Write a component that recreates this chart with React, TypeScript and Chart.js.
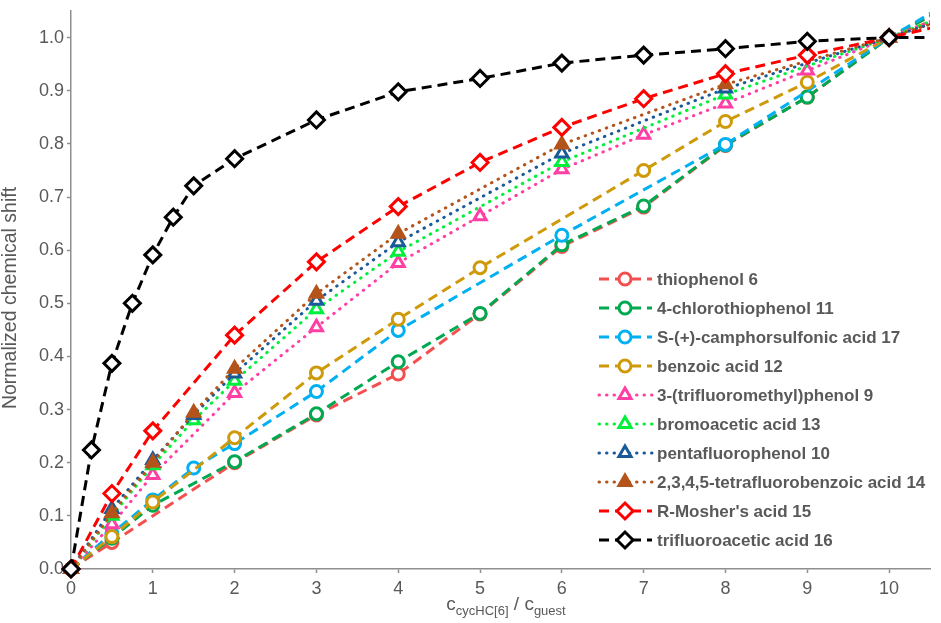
import { useEffect, useRef } from 'react';
import { Chart, registerables } from 'chart.js';
import { drawPoint } from 'chart.js/helpers';

Chart.register(...registerables);

// ============= DATA =============
const seriesNames = [
    'thiophenol 6',
    '4-chlorothiophenol 11',
    'S-(+)-camphorsulfonic acid 17',
    'benzoic acid 12',
    '3-(trifluoromethyl)phenol 9',
    'bromoacetic acid 13',
    'pentafluorophenol 10',
    '2,3,4,5-tetrafluorobenzoic acid 14',
    "R-Mosher's acid 15",
    'trifluoroacetic acid 16',
];

// x = c(cycHC[6]) / c(guest); the last point of each series lies past the axis end
const thiophenolX = [0, 0.5, 2, 3, 4, 5, 6, 7, 8, 9, 10, 11];
const thiophenolY = [0, 0.05, 0.2, 0.29, 0.367, 0.48, 0.607, 0.681, 0.797, 0.888, 1.0, 1.08];

const chlorothiophenolX = [0, 0.5, 1, 2, 3, 4, 5, 6, 7, 8, 9, 10, 11];
const chlorothiophenolY = [0, 0.058, 0.12, 0.202, 0.292, 0.39, 0.481, 0.61, 0.683, 0.798, 0.888, 1.0, 1.08];

const camphorX = [0, 0.5, 1, 1.5, 2, 3, 4, 6, 8, 10, 11];
const camphorY = [0, 0.067, 0.13, 0.19, 0.236, 0.334, 0.449, 0.628, 0.799, 1.0, 1.09];

const benzoicX = [0, 0.5, 1, 2, 3, 4, 5, 7, 8, 9, 10, 11];
const benzoicY = [0, 0.061, 0.126, 0.247, 0.369, 0.47, 0.567, 0.75, 0.842, 0.916, 1.0, 1.06];

const tfmPhenolX = [0, 0.5, 1, 2, 3, 4, 5, 6, 7, 8, 9, 10, 11];
const tfmPhenolY = [0, 0.084, 0.177, 0.331, 0.455, 0.576, 0.664, 0.752, 0.817, 0.876, 0.938, 1.0, 1.06];

const bromoaceticX = [0, 0.5, 1, 1.5, 2, 3, 4, 6, 8, 10, 11];
const bromoaceticY = [0, 0.1, 0.195, 0.28, 0.354, 0.489, 0.597, 0.766, 0.893, 1.0, 1.06];

const pentafluoroX = [0, 0.5, 1, 1.5, 2, 3, 4, 6, 8, 10, 11];
const pentafluoroY = [0, 0.113, 0.205, 0.29, 0.368, 0.505, 0.615, 0.782, 0.904, 1.0, 1.05];

const tetrafluoroX = [0, 0.5, 1, 1.5, 2, 3, 4, 6, 8, 10, 11];
const tetrafluoroY = [0, 0.105, 0.2, 0.294, 0.377, 0.518, 0.631, 0.799, 0.912, 1.0, 1.05];

const mosherX = [0, 0.5, 1, 2, 3, 4, 5, 6, 7, 8, 9, 10, 11];
const mosherY = [0, 0.142, 0.26, 0.44, 0.578, 0.682, 0.765, 0.831, 0.885, 0.932, 0.967, 1.0, 1.035];

const tfaX = [0, 0.25, 0.5, 0.75, 1, 1.25, 1.5, 2, 3, 4, 5, 6, 7, 8, 9, 10, 11];
const tfaY = [0, 0.224, 0.387, 0.5, 0.591, 0.662, 0.721, 0.772, 0.845, 0.898, 0.923, 0.952, 0.967, 0.979, 0.993, 1.0, 1.0];

const seriesX = [thiophenolX, chlorothiophenolX, camphorX, benzoicX, tfmPhenolX, bromoaceticX, pentafluoroX, tetrafluoroX, mosherX, tfaX];
const seriesY = [thiophenolY, chlorothiophenolY, camphorY, benzoicY, tfmPhenolY, bromoaceticY, pentafluoroY, tetrafluoroY, mosherY, tfaY];

// ============= STYLES =============
const DASH = [10, 6];
const DOT = [0.5, 7];
const FONT = '"Liberation Sans", Arial, sans-serif';
const TEXT_GREY = '#595959';
const AXIS_GREY = '#8f8f8f';

interface SeriesStyle {
    color: string;
    dash: number[];
    point: 'circle' | 'triangle' | 'rectRot';
    radius: number;
    fill: string;
}

const styles: SeriesStyle[] = [
    { color: '#f44f4f', dash: DASH, point: 'circle', radius: 6, fill: '#ffffff' },
    { color: '#00a950', dash: DASH, point: 'circle', radius: 6, fill: '#ffffff' },
    { color: '#00b0f0', dash: DASH, point: 'circle', radius: 6, fill: '#ffffff' },
    { color: '#cf9a0a', dash: DASH, point: 'circle', radius: 6, fill: '#ffffff' },
    { color: '#ff3fa4', dash: DOT, point: 'triangle', radius: 7, fill: '#ffffff' },
    { color: '#00f03c', dash: DOT, point: 'triangle', radius: 7, fill: '#ffffff' },
    { color: '#1b5a98', dash: DOT, point: 'triangle', radius: 7, fill: '#ffffff' },
    { color: '#b4531a', dash: DOT, point: 'triangle', radius: 7, fill: '#b4531a' },
    { color: '#ff0000', dash: DASH, point: 'rectRot', radius: 8, fill: '#ffffff' },
    { color: '#000000', dash: DASH, point: 'rectRot', radius: 8, fill: '#ffffff' },
];

// ============= PLUGIN: legend inside plot + axis titles =============
const annotations = {
    id: 'annotations',
    afterDraw(chart: Chart) {
        const ctx = chart.ctx;
        ctx.save();

        // legend
        const lineStart = 599;
        const lineEnd = 652;
        const markX = 625;
        const textX = 657;
        const firstY = 279;
        const step = 29;
        seriesNames.forEach((name, i) => {
            const s = styles[i];
            const y = firstY + i * step;
            ctx.save();
            ctx.strokeStyle = s.color;
            ctx.lineWidth = 3;
            ctx.lineCap = s.dash === DOT ? 'round' : 'butt';
            ctx.setLineDash(s.dash);
            ctx.beginPath();
            ctx.moveTo(lineStart, y);
            ctx.lineTo(lineEnd, y);
            ctx.stroke();
            ctx.setLineDash([]);
            ctx.fillStyle = s.fill;
            ctx.lineWidth = 3;
            drawPoint(ctx, { pointStyle: s.point, radius: s.radius, rotation: 0, borderWidth: 3 }, markX, y);
            ctx.restore();

            ctx.fillStyle = TEXT_GREY;
            ctx.font = `bold 17px ${FONT}`;
            ctx.textAlign = 'left';
            ctx.textBaseline = 'middle';
            ctx.fillText(name, textX, y + 1);
        });

        // y title
        ctx.save();
        ctx.translate(11, 298);
        ctx.rotate(-Math.PI / 2);
        ctx.fillStyle = TEXT_GREY;
        ctx.font = `19.5px ${FONT}`;
        ctx.textAlign = 'center';
        ctx.textBaseline = 'middle';
        ctx.fillText('Normalized chemical shift', 0, 0);
        ctx.restore();

        // x title with subscripts
        const parts = [
            { t: 'c', sub: false },
            { t: 'cycHC[6]', sub: true },
            { t: ' / c', sub: false },
            { t: 'guest', sub: true },
        ];
        const mainFont = `19px ${FONT}`;
        const subFont = `13px ${FONT}`;
        let total = 0;
        parts.forEach(p => {
            ctx.font = p.sub ? subFont : mainFont;
            total += ctx.measureText(p.t).width;
        });
        let x = 506 - total / 2;
        const base = 610;
        ctx.fillStyle = TEXT_GREY;
        ctx.textAlign = 'left';
        ctx.textBaseline = 'alphabetic';
        parts.forEach(p => {
            ctx.font = p.sub ? subFont : mainFont;
            ctx.fillText(p.t, x, p.sub ? base + 5 : base);
            x += ctx.measureText(p.t).width;
        });

        ctx.restore();
    },
};

// ============= CHART =============
const ShiftChart = () => {
    const chartRef = useRef<HTMLCanvasElement>(null);
    const chartInstance = useRef<Chart | null>(null);

    useEffect(() => {
        document.body.style.margin = '0';
        if (!chartRef.current) return;
        if (chartInstance.current) chartInstance.current.destroy();

        const ctx = chartRef.current.getContext('2d');
        if (!ctx) return;

        const n = seriesNames.length;
        chartInstance.current = new Chart(ctx, {
            type: 'line',
            data: {
                datasets: seriesNames.map((name, i) => ({
                    label: name,
                    data: seriesX[i].map((x, j) => ({ x, y: seriesY[i][j] })),
                    borderColor: styles[i].color,
                    borderWidth: 3,
                    borderDash: styles[i].dash,
                    borderCapStyle: styles[i].dash === DOT ? 'round' : 'butt',
                    backgroundColor: styles[i].fill,
                    pointStyle: styles[i].point,
                    pointRadius: styles[i].radius,
                    pointBorderWidth: 3,
                    pointBorderColor: styles[i].color,
                    pointBackgroundColor: styles[i].fill,
                    tension: 0,
                    fill: false,
                    order: n - i,
                    clip: { left: 15, top: 15, bottom: 15, right: 0 },
                })),
            },
            options: {
                responsive: false,
                animation: false,
                layout: { padding: { top: 3, right: 6, left: 0, bottom: 0 } },
                plugins: {
                    legend: { display: false },
                    tooltip: { enabled: false },
                },
                scales: {
                    x: {
                        type: 'linear',
                        min: 0,
                        max: 10.5,
                        afterFit: (scale) => {
                            scale.height = 54;
                            scale.paddingLeft = 0;
                            scale.paddingRight = 0;
                        },
                        ticks: {
                            stepSize: 1,
                            includeBounds: false,
                            color: TEXT_GREY,
                            font: { family: FONT, size: 18 },
                            padding: 5,
                            maxRotation: 0,
                        },
                        grid: { drawOnChartArea: false, tickLength: 4, tickColor: AXIS_GREY, tickWidth: 1.5 },
                        border: { color: AXIS_GREY, width: 1.5 },
                    },
                    y: {
                        type: 'linear',
                        min: 0,
                        max: 1.05,
                        afterFit: (scale) => {
                            scale.width = 71;
                            scale.paddingTop = 0;
                            scale.paddingBottom = 0;
                        },
                        ticks: {
                            stepSize: 0.1,
                            includeBounds: false,
                            color: TEXT_GREY,
                            font: { family: FONT, size: 18 },
                            padding: 3,
                            callback: (v) => Number(v).toFixed(1),
                        },
                        grid: { drawOnChartArea: false, tickLength: 4, tickColor: AXIS_GREY, tickWidth: 1.5 },
                        border: { color: AXIS_GREY, width: 1.5 },
                    },
                },
            },
            plugins: [annotations],
        });

        return () => {
            if (chartInstance.current) {
                chartInstance.current.destroy();
                chartInstance.current = null;
            }
        };
    }, []);

    return (
        <div style={{ width: 941, height: 623, background: '#ffffff' }}>
            <canvas ref={chartRef} width={941} height={623}></canvas>
        </div>
    );
};

export default function App() {
    return <ShiftChart />;
}
